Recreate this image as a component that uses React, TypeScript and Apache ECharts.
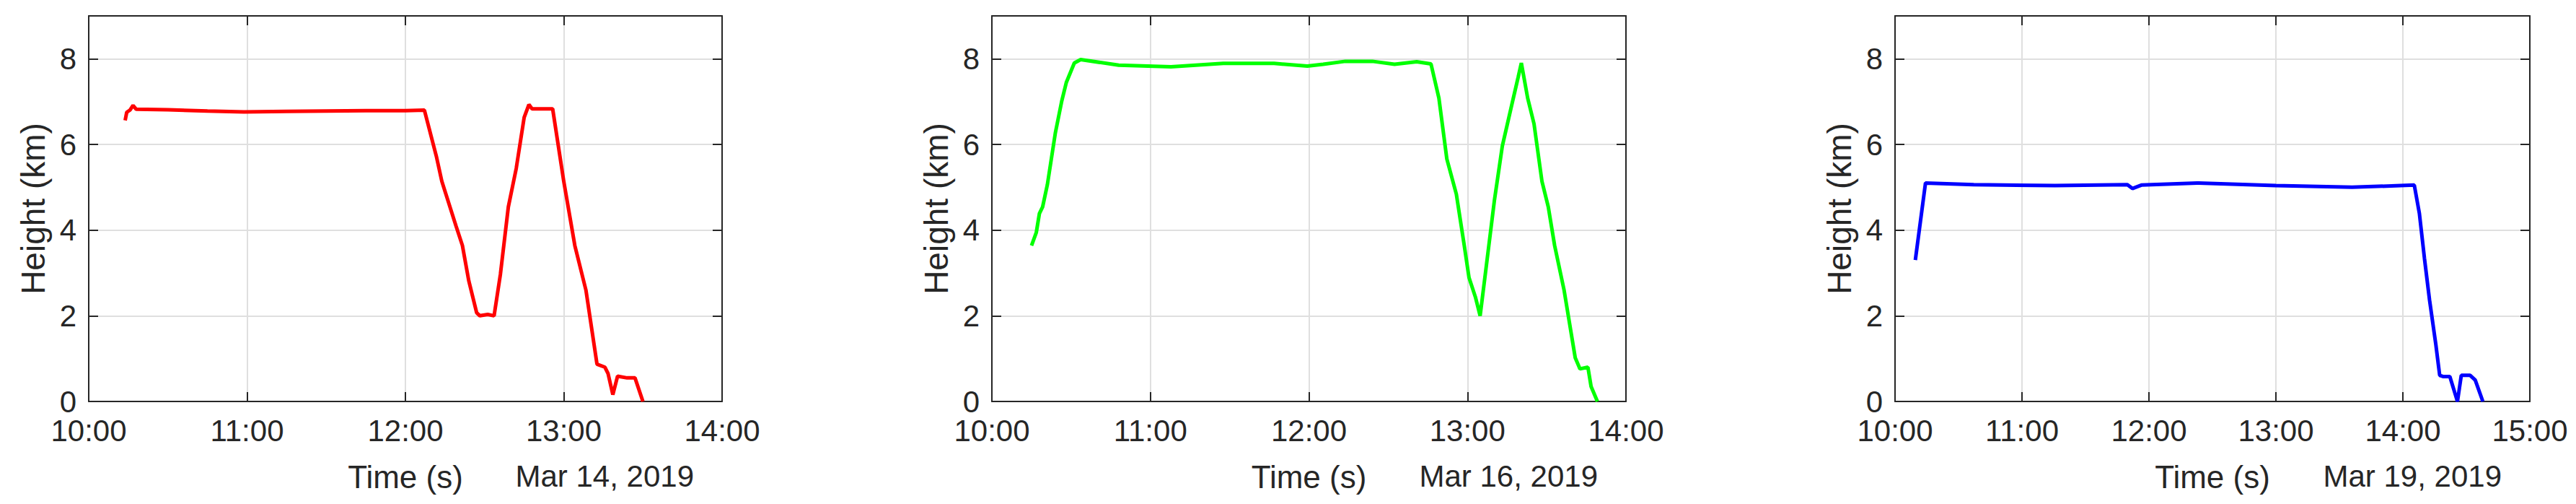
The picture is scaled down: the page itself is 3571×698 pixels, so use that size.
import { useEffect, useRef } from 'react';
import * as echarts from 'echarts';

// flight 1 (Mar 14, 2019) - time in decimal hours, height in km
const FLIGHT1_TIME = [10.23, 10.24, 10.26, 10.28, 10.3, 10.5, 10.75, 10.98, 11.25, 11.5, 11.75, 12.0, 12.12, 12.195, 12.23, 12.32, 12.36, 12.4, 12.45, 12.47, 12.52, 12.56, 12.6, 12.65, 12.7, 12.75, 12.78, 12.8, 12.93, 13.0, 13.07, 13.14, 13.21, 13.26, 13.28, 13.31, 13.34, 13.4, 13.45, 13.5];
const FLIGHT1_HEIGHT = [6.56, 6.75, 6.8, 6.91, 6.82, 6.81, 6.78, 6.76, 6.77, 6.78, 6.79, 6.79, 6.8, 5.73, 5.14, 4.09, 3.64, 2.82, 2.07, 2.0, 2.03, 2.0, 2.97, 4.54, 5.44, 6.63, 6.93, 6.83, 6.83, 5.14, 3.64, 2.6, 0.87, 0.8, 0.65, 0.16, 0.59, 0.55, 0.55, 0];

// flight 2 (Mar 16, 2019)
const FLIGHT2_TIME = [10.25, 10.28, 10.3, 10.32, 10.35, 10.4, 10.44, 10.47, 10.52, 10.56, 10.8, 11.13, 11.46, 11.78, 11.99, 12.09, 12.23, 12.4, 12.54, 12.68, 12.77, 12.82, 12.87, 12.93, 12.98, 13.01, 13.05, 13.08, 13.12, 13.17, 13.22, 13.28, 13.32, 13.34, 13.38, 13.42, 13.47, 13.51, 13.55, 13.61, 13.68, 13.71, 13.76, 13.78, 13.82];
const FLIGHT2_HEIGHT = [3.64, 3.94, 4.39, 4.54, 5.06, 6.26, 7.0, 7.45, 7.9, 7.98, 7.85, 7.81, 7.89, 7.89, 7.83, 7.87, 7.94, 7.94, 7.87, 7.93, 7.88, 7.08, 5.66, 4.84, 3.64, 2.89, 2.44, 2.0, 3.19, 4.69, 5.96, 6.93, 7.57, 7.9, 7.08, 6.48, 5.14, 4.54, 3.64, 2.59, 1.02, 0.76, 0.8, 0.35, 0];

// flight 3 (Mar 19, 2019)
const FLIGHT3_TIME = [10.16, 10.24, 10.62, 11.26, 11.83, 11.87, 11.94, 12.38, 13.0, 13.6, 14.09, 14.13, 14.17, 14.21, 14.26, 14.29, 14.32, 14.37, 14.43, 14.46, 14.53, 14.57, 14.63];
const FLIGHT3_HEIGHT = [3.3, 5.1, 5.06, 5.04, 5.06, 4.97, 5.05, 5.1, 5.04, 5.0, 5.05, 4.39, 3.34, 2.37, 1.32, 0.61, 0.58, 0.58, 0, 0.61, 0.61, 0.5, 0];

const DATES = ['Mar 14, 2019', 'Mar 16, 2019', 'Mar 19, 2019'];
const X_MAX = [14, 14, 15];
const Y_TICKS_MAX = 9;

const PANELS = [
  { left: 123, width: 878, color: '#ff0000', time: FLIGHT1_TIME, height: FLIGHT1_HEIGHT },
  { left: 1375, width: 879, color: '#00ff00', time: FLIGHT2_TIME, height: FLIGHT2_HEIGHT },
  { left: 2627, width: 880, color: '#0000ff', time: FLIGHT3_TIME, height: FLIGHT3_HEIGHT },
];

const GRID_TOP = 22;
const GRID_HEIGHT = 534;
const FONT = '"Liberation Sans", Arial, Helvetica, sans-serif';
const INK = '#262626';

export default function App() {
  const chartRef = useRef<HTMLDivElement>(null);

  useEffect(() => {
    if (!chartRef.current) return;
    const chart = echarts.init(chartRef.current, null, { renderer: 'svg' });

    const grid: any[] = [];
    const xAxis: any[] = [];
    const yAxis: any[] = [];
    const series: any[] = [];
    const graphic: any[] = [];

    const tick = { show: true, inside: true, length: 13, lineStyle: { color: INK, width: 2 } };
    const line = { show: true, onZero: false, lineStyle: { color: INK, width: 2 } };
    const split = { show: true, lineStyle: { color: '#dfdfdf', width: 2 } };

    PANELS.forEach((p, i) => {
      grid.push({ left: p.left, top: GRID_TOP, width: p.width, height: GRID_HEIGHT });
      const xBase = { type: 'value', gridIndex: i, min: 10, max: X_MAX[i], interval: 1 };
      const yBase = { type: 'value', gridIndex: i, min: 0, max: Y_TICKS_MAX, interval: 2 };
      xAxis.push({
        ...xBase,
        position: 'bottom',
        axisLine: line,
        axisTick: tick,
        splitLine: split,
        axisLabel: {
          color: INK,
          fontFamily: FONT,
          fontSize: 42,
          margin: 19,
          formatter: (v: number) => `${v}:00`,
        },
        name: 'Time (s)',
        nameLocation: 'middle',
        nameGap: 82,
        nameTextStyle: { color: INK, fontFamily: FONT, fontSize: 44 },
      });
      xAxis.push({
        ...xBase,
        position: 'top',
        axisLine: line,
        axisTick: tick,
        splitLine: { show: false },
        axisLabel: { show: false },
      });
      yAxis.push({
        ...yBase,
        position: 'left',
        axisLine: line,
        axisTick: tick,
        splitLine: split,
        axisLabel: {
          color: INK,
          fontFamily: FONT,
          fontSize: 42,
          lineHeight: 32,
          margin: 17,
          formatter: (v: number) => (v === Y_TICKS_MAX ? '' : String(v)),
        },
        name: 'Height (km)',
        nameLocation: 'middle',
        nameGap: 54,
        nameTextStyle: { color: INK, fontFamily: FONT, fontSize: 46 },
      });
      yAxis.push({
        ...yBase,
        position: 'right',
        axisLine: line,
        axisTick: tick,
        splitLine: { show: false },
        axisLabel: { show: false },
      });
      series.push({
        type: 'line',
        xAxisIndex: 2 * i,
        yAxisIndex: 2 * i,
        data: p.time.map((t, k) => [t, p.height[k]]),
        showSymbol: false,
        clip: true,
        lineStyle: { color: p.color, width: 5 },
        itemStyle: { color: p.color },
      });
      graphic.push({
        type: 'text',
        x: p.left + p.width - 39,
        y: 638,
        style: {
          text: DATES[i],
          fill: INK,
          font: `42px ${FONT}`,
          align: 'right',
          verticalAlign: 'top',
        },
      });
    });

    chart.setOption({
      animation: false,
      backgroundColor: '#ffffff',
      grid,
      xAxis,
      yAxis,
      series,
      graphic,
    });

    return () => {
      chart.dispose();
    };
  }, []);

  return (
    <div
      ref={chartRef}
      style={{ position: 'fixed', left: 0, top: 0, width: 3571, height: 698 }}
    />
  );
}
